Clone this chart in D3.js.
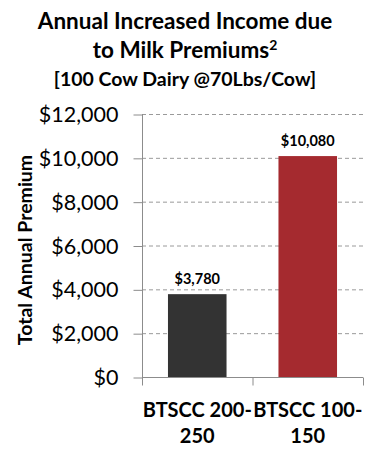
<!DOCTYPE html>
<html lang="en">
<head>
  <meta charset="utf-8">
  <title>Milk Premiums</title>
  <script src="https://d3js.org/d3.v7.min.js"></script>
  <style>
  body {
    margin: 0;
    background: white;
    font-family: Lato, "Open Sans", sans-serif;
  }
  .title {
    font-weight: bold;
    text-anchor: middle;
    fill: #000;
  }
  .tick-label {
    font-size: 21.5px;
    fill: #000;
  }
  .bar-label {
    font-size: 14.5px;
    font-weight: bold;
    text-anchor: middle;
  }
  .cat-label {
    font-size: 20px;
    font-weight: bold;
    text-anchor: middle;
  }
  </style>
</head>
<body>
<script>

// data
var categories = ["BTSCC 200-250", "BTSCC 100-150"];
var catLines = [["BTSCC 200-", "250"], ["BTSCC 100-", "150"]];
var premiums = [3780, 10080];
var barColors = ["#333333", "#A52A2F"];
var yTicks = [0, 2000, 4000, 6000, 8000, 10000, 12000];

var width = 365;
var height = 449;
var margin = {left: 142, right: 2, top: 114, bottom: 72};

var svg = d3.select("body")
  .append("svg")
  .attr("width", width)
  .attr("height", height);

var x = d3.scaleBand()
  .domain(categories)
  .range([margin.left, width - margin.right])
  .paddingInner(0.47)
  .paddingOuter(0.235);

var y = d3.scaleLinear()
  .domain([0, 12000])
  .range([height - margin.bottom, margin.top]);

// title
var title = svg.append("g");
title.append("text").attr("class", "title")
  .attr("x", 185).attr("y", 29)
  .style("font-size", "22.5px")
  .text("Annual Increased Income due");
var t2 = title.append("text").attr("class", "title")
  .attr("x", 185).attr("y", 58)
  .style("font-size", "22.5px")
  .text("to Milk Premiums");
t2.append("tspan")
  .attr("dy", -8)
  .style("font-size", "14px")
  .text("2");
title.append("text").attr("class", "title")
  .attr("x", 185).attr("y", 86)
  .style("font-size", "19.5px")
  .text("[100 Cow Dairy @70Lbs/Cow]");

// gridlines
svg.append("g")
  .selectAll("line")
  .data(yTicks.filter(function(d) { return d > 0; }))
  .enter().append("line")
  .attr("x1", margin.left)
  .attr("x2", width - margin.right)
  .attr("y1", function(d) { return y(d) + 0.5; })
  .attr("y2", function(d) { return y(d) + 0.5; })
  .attr("stroke", "#9a9a9a")
  .attr("stroke-dasharray", "4,3");

// y axis
var yAxis = svg.append("g")
  .attr("transform", "translate(" + (margin.left + 0.5) + ",0)")
  .call(d3.axisLeft(y)
    .tickValues(yTicks)
    .tickSize(9)
    .tickPadding(15)
    .tickFormat(function(d) { return "$" + d3.format(",")(d); }));
yAxis.select(".domain").attr("stroke", "#8c8c8c").attr("d", "M0," + y(12000) + "V" + y(0));
yAxis.selectAll(".tick line").attr("stroke", "#8c8c8c").attr("transform", "translate(0,0.5)");
yAxis.selectAll(".tick text")
  .attr("class", "tick-label")
  .style("font-family", "Lato, sans-serif")
  .attr("dy", "0.35em");

// x axis
var xAxis = svg.append("g")
  .attr("transform", "translate(0," + (y(0) + 0.5) + ")");
xAxis.append("line")
  .attr("x1", margin.left).attr("x2", width - margin.right)
  .attr("stroke", "#8c8c8c");
xAxis.selectAll(".xt")
  .data([margin.left, (margin.left + width - margin.right) / 2, width - margin.right])
  .enter().append("line")
  .attr("x1", function(d) { return d + 0.5; })
  .attr("x2", function(d) { return d + 0.5; })
  .attr("y1", 0).attr("y2", 8)
  .attr("stroke", "#8c8c8c");

// bars
svg.append("g")
  .selectAll("rect")
  .data(premiums)
  .enter().append("rect")
  .attr("x", function(d, i) { return x(categories[i]); })
  .attr("width", x.bandwidth())
  .attr("y", function(d) { return y(d); })
  .attr("height", function(d) { return y(0) - y(d); })
  .attr("fill", function(d, i) { return barColors[i]; });

// value labels
svg.append("g")
  .selectAll("text")
  .data(premiums)
  .enter().append("text")
  .attr("class", "bar-label")
  .attr("x", function(d, i) { return x(categories[i]) + x.bandwidth() / 2; })
  .attr("y", function(d) { return y(d) - 10; })
  .text(function(d) { return "$" + d3.format(",")(d); });

// category labels
var cats = svg.append("g")
  .selectAll("text")
  .data(categories)
  .enter().append("text")
  .attr("class", "cat-label")
  .attr("x", function(d) { return x(d) + x.bandwidth() / 2; })
  .attr("y", y(0) + 40);
cats.selectAll("tspan")
  .data(function(d, i) { return catLines[i]; })
  .enter().append("tspan")
  .attr("x", function() { return d3.select(this.parentNode).attr("x"); })
  .attr("dy", function(d, i) { return i === 0 ? 0 : 26; })
  .text(function(d) { return d; });

// y axis title
svg.append("text")
  .attr("transform", "translate(32,250) rotate(-90)")
  .attr("text-anchor", "middle")
  .style("font-size", "19.5px")
  .style("font-weight", "bold")
  .text("Total Annual Premium");

</script>
</body>
</html>
